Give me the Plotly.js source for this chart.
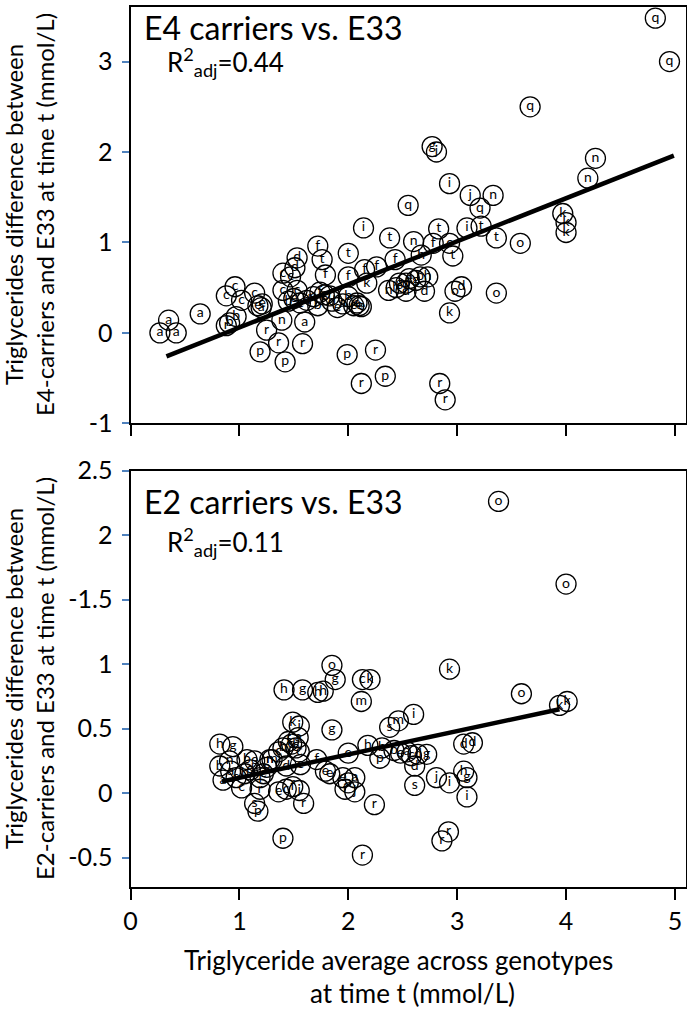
<!DOCTYPE html>
<html>
<head>
<meta charset="utf-8">
<script src="https://cdn.plot.ly/plotly-3.0.1.min.js"></script>
<style>html,body{margin:0;padding:0;background:#fff;}#chart{width:687px;height:1010px;}</style>
</head>
<body>
<div id="chart"></div>
<script>
// ---- E4 carriers vs. E33 (top panel) ----
const e4Labels = ['a','a','a','a','c','c','c','c','r','b','b','a','e','e','r','n','a','p','r','p','r','p',
  'd','d','c','c','f','t','f','c','c','t',
  'b','e','c','d','e','b','g','d','e','a','b','e','e','e','e','f','f',
  'i','j','n','q','q','i','t','t','i','t','t',
  'n','f','c','t','h','f','f','f','f','k','n','g','d','h','d','d','d','o','k','o',
  'e','g','b','h',
  'r','r','p','r','r',
  'q','q','q','g','j','n','n','k','k','k','o'];
const e4X = [0.35,0.27,0.42,0.64,0.88,0.96,1.02,1.14,0.88,0.97,0.91,1.20,1.21,1.17,1.25,1.39,1.60,1.19,1.36,1.42,1.58,1.99,
  1.53,1.51,1.47,1.40,1.72,1.76,1.79,1.40,1.53,2.00,
  1.45,1.50,1.56,1.62,1.68,1.72,1.78,1.85,1.90,1.95,2.00,2.05,2.08,2.10,2.12,1.74,1.83,
  2.93,3.12,3.33,3.21,2.55,2.14,2.38,2.83,3.09,3.22,3.36,
  2.60,2.78,2.93,2.96,2.67,2.43,2.26,2.15,2.00,2.17,2.37,2.47,2.53,2.44,2.53,2.70,3.04,2.98,2.93,3.36,
  2.56,2.62,2.66,2.73,
  2.25,2.12,2.34,2.84,2.89,
  4.82,4.95,3.67,2.77,2.81,4.27,4.20,3.97,4.00,4.00,3.58];
const e4Y = [0.14,0.00,0.00,0.21,0.41,0.51,0.36,0.44,0.08,0.18,0.11,0.28,0.32,0.30,0.03,0.14,0.12,-0.21,-0.11,-0.32,-0.12,-0.24,
  0.83,0.72,0.62,0.66,0.96,0.81,0.64,0.47,0.47,0.88,
  0.35,0.38,0.33,0.36,0.40,0.30,0.42,0.35,0.28,0.32,0.40,0.30,0.33,0.30,0.29,0.45,0.41,
  1.65,1.52,1.52,1.38,1.41,1.16,1.05,1.15,1.16,1.18,1.05,
  1.01,0.99,0.99,0.85,0.86,0.81,0.73,0.70,0.62,0.55,0.47,0.55,0.55,0.50,0.46,0.46,0.51,0.46,0.22,0.44,
  0.60,0.58,0.62,0.62,
  -0.19,-0.56,-0.48,-0.56,-0.74,
  3.48,3.00,2.50,2.06,2.00,1.93,1.71,1.32,1.22,1.11,0.99];
const e4FitX = [0.33, 4.99];
const e4FitY = [-0.26, 1.96];

// ---- E2 carriers vs. E33 (bottom panel) ----
const e2Labels = ['o','o','k','o','k','k','o','g','c','k','m','g','i','m','s','d','d','h','b',
  'b','e','a','c','g','d','d','p','e','s','j','i','h','g','i',
  'e','a','f','j','a','e','r','r','r','r',
  'h','g','h','h','k','i','a','h','g','m','c','c','e',
  'b','n','a','e','c','b','e','j','r','s','p','p','n',
  'b','d','e','f','d','c','e','c','f','j','r','f',
  'a','b','d','c','e'];
const e2X = [3.38,4.00,2.93,3.59,3.94,4.01,1.85,1.88,2.13,2.20,2.12,1.85,2.60,2.46,2.38,3.06,3.14,2.18,2.31,
  2.42,2.48,2.54,2.58,2.72,2.64,2.61,2.29,2.00,2.61,2.81,2.93,3.06,3.09,3.09,
  1.95,2.06,1.97,2.06,2.00,1.83,2.24,2.92,2.86,2.13,
  1.41,1.58,1.72,1.77,1.49,1.55,1.54,0.82,0.94,1.30,1.36,1.55,1.79,
  0.82,0.91,0.85,0.97,1.02,1.07,1.14,1.19,1.19,1.14,1.17,1.40,1.28,
  1.40,1.48,1.52,1.45,1.43,1.56,1.36,1.43,1.49,1.55,1.59,1.71,
  0.92,1.05,1.10,1.22,1.25];
const e2Y = [2.26,1.62,0.96,0.77,0.68,0.71,0.99,0.88,0.88,0.88,0.71,0.49,0.61,0.56,0.51,0.38,0.39,0.37,0.35,
  0.33,0.31,0.32,0.29,0.30,0.30,0.21,0.27,0.31,0.06,0.12,0.08,0.17,0.12,-0.03,
  0.12,0.12,0.03,0.01,0.08,0.15,-0.09,-0.30,-0.37,-0.48,
  0.80,0.80,0.78,0.79,0.55,0.52,0.43,0.38,0.36,0.26,0.32,0.32,0.17,
  0.21,0.25,0.10,0.12,0.04,0.26,0.25,0.12,0.03,-0.08,-0.14,-0.35,0.26,
  0.35,0.38,0.35,0.40,0.21,0.22,0.01,0.03,0.05,0.02,-0.08,0.26,
  0.17,0.15,0.18,0.15,0.20];
const e2FitX = [0.84, 3.94];
const e2FitY = [0.09, 0.65];

// tick labels
const xTickVals = [0,1,2,3,4,5];
const xTickText = ['0','1','2','3','4','5'];
const e4TickVals = [3,2,1,0,-1];
const e4TickText = ['3','2','1','0','-1'];
const e2TickVals = [2.5,2,1.5,1,0.5,0,-0.5];
const e2TickText = ['2.5','2','-1.5','1','0.5','0','-0.5'];

const FONT = 'Lato, "Open Sans", "DejaVu Sans", sans-serif';
const W = 687, H = 1010;
const px = v => v / W;
const py = v => 1 - v / H;

function pointsTrace(xs, ys, labels, xa, ya) {
  return {
    type: 'scatter', mode: 'markers+text', x: xs, y: ys, text: labels,
    xaxis: xa, yaxis: ya, textposition: 'middle center',
    textfont: {family: FONT, size: 14, color: '#000'},
    marker: {symbol: 'circle-open', size: 20, color: '#000', line: {width: 1.3, color: '#000'}},
    hoverinfo: 'skip', showlegend: false, cliponaxis: false
  };
}
function fitTrace(xs, ys, xa, ya) {
  return {type: 'scatter', mode: 'lines', x: xs, y: ys, xaxis: xa, yaxis: ya,
    line: {color: '#000', width: 4.5}, hoverinfo: 'skip', showlegend: false};
}

const data = [
  pointsTrace(e4X, e4Y, e4Labels, 'x', 'y'),
  fitTrace(e4FitX, e4FitY, 'x', 'y'),
  pointsTrace(e2X, e2Y, e2Labels, 'x2', 'y2'),
  fitTrace(e2FitX, e2FitY, 'x2', 'y2')
];

const xDomain = [px(130.5), px(685.5)];
const xBase = {
  domain: xDomain, range: [0, 5.097], showgrid: false, zeroline: false,
  showline: true, mirror: true, linecolor: '#000', linewidth: 2,
  ticks: 'outside', ticklen: 11, tickwidth: 2, tickcolor: '#000',
  tickvals: xTickVals, ticktext: xTickText,
  tickfont: {family: FONT, size: 25, color: '#000'}, fixedrange: true
};
const yBase = {
  showgrid: false, zeroline: false, showline: true, mirror: true,
  linecolor: '#000', linewidth: 2, ticks: 'outside', ticklen: 7, tickwidth: 2,
  tickcolor: '#4f81bd', tickfont: {family: FONT, size: 25, color: '#000'},
  ticklabelstandoff: 4, fixedrange: true
};

const layout = {
  width: W, height: H, paper_bgcolor: '#fff', plot_bgcolor: '#fff',
  margin: {l: 0, r: 0, t: 0, b: 0}, showlegend: false,
  font: {family: FONT, color: '#000'},
  xaxis: Object.assign({}, xBase, {anchor: 'y', showticklabels: false}),
  yaxis: Object.assign({}, yBase, {anchor: 'x', domain: [py(423.3), py(7.3)], range: [-1, 3.6],
    tickvals: e4TickVals, ticktext: e4TickText}),
  xaxis2: Object.assign({}, xBase, {anchor: 'y2', showticklabels: true}),
  yaxis2: Object.assign({}, yBase, {anchor: 'x2', domain: [py(887.3), py(470.5)], range: [-0.73, 2.5],
    tickvals: e2TickVals, ticktext: e2TickText}),
  annotations: [
    {text: 'E4 carriers vs. E33', xref: 'paper', yref: 'paper', x: px(142), y: py(27),
     xanchor: 'left', yanchor: 'middle', showarrow: false, font: {family: FONT, size: 32, color: '#000'}},
    {text: 'R<sup>2</sup><sub>adj</sub>=0.44', xref: 'paper', yref: 'paper', x: px(165), y: py(62),
     xanchor: 'left', yanchor: 'middle', showarrow: false, font: {family: FONT, size: 26, color: '#000'}},
    {text: 'E2 carriers vs. E33', xref: 'paper', yref: 'paper', x: px(142), y: py(501),
     xanchor: 'left', yanchor: 'middle', showarrow: false, font: {family: FONT, size: 32, color: '#000'}},
    {text: 'R<sup>2</sup><sub>adj</sub>=0.11', xref: 'paper', yref: 'paper', x: px(165), y: py(542),
     xanchor: 'left', yanchor: 'middle', showarrow: false, font: {family: FONT, size: 26, color: '#000'}},
    {text: 'Triglycerides difference between<br>E4-carriers and E33 at time t (mmol/L)', textangle: -90,
     xref: 'paper', yref: 'paper', x: px(29), y: py(215), xanchor: 'center', yanchor: 'middle',
     showarrow: false, font: {family: FONT, size: 24, color: '#000'}},
    {text: 'Triglycerides difference between<br>E2-carriers and E33 at time t (mmol/L)', textangle: -90,
     xref: 'paper', yref: 'paper', x: px(29), y: py(679), xanchor: 'center', yanchor: 'middle',
     showarrow: false, font: {family: FONT, size: 24, color: '#000'}},
    {text: 'Triglyceride average across genotypes', xref: 'paper', yref: 'paper', x: px(398), y: py(960),
     xanchor: 'center', yanchor: 'middle', showarrow: false, font: {family: FONT, size: 26, color: '#000'}},
    {text: 'at time t (mmol/L)', xref: 'paper', yref: 'paper', x: px(412), y: py(993),
     xanchor: 'center', yanchor: 'middle', showarrow: false, font: {family: FONT, size: 26, color: '#000'}}
  ]
};

Plotly.newPlot('chart', data, layout, {staticPlot: true, displayModeBar: false});
</script>
</body>
</html>
